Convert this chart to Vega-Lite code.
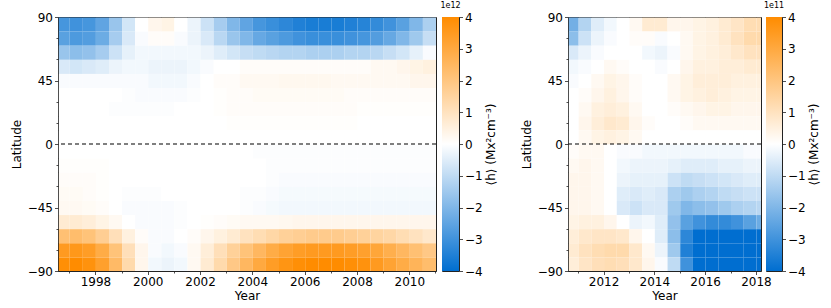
{
"$schema":"https://vega.github.io/schema/vega-lite/v6.json",
"padding":{"left":9,"top":1,"right":5,"bottom":4},
"background":"white",
"config":{
 "font":"DejaVu Sans",
 "view":{"stroke":"#222","strokeWidth":1},
 "axis":{"labelFont":"DejaVu Sans","labelFontSize":12,"titleFont":"DejaVu Sans","titleFontSize":12,"titleFontWeight":"normal","labelColor":"black","titleColor":"black","domainColor":"#222","tickColor":"#222","tickWidth":0.8,"domainWidth":0.8,"tickSize":3.5,"labelPadding":2,"titlePadding":3,"grid":false,"labelOverlap":false,"labelFlush":false},
 "title":{"font":"DejaVu Sans","fontSize":8,"fontWeight":"normal","color":"black","offset":1}
},
"datasets":{
"cb":[{"lo":-4,"hi":4}],
"L":[
{"x":1996.5,"y":80,"v":-2.9},{"x":1997,"y":80,"v":-3.0},{"x":1997.5,"y":80,"v":-2.9},{"x":1998,"y":80,"v":-2.5},{"x":1998.5,"y":80,"v":-1.6},{"x":1999,"y":80,"v":-0.7},{"x":1999.5,"y":80,"v":0},{"x":2000,"y":80,"v":0.3},{"x":2000.5,"y":80,"v":0.4},{"x":2001,"y":80,"v":0},{"x":2001.5,"y":80,"v":-0.3},{"x":2002,"y":80,"v":-0.8},{"x":2002.5,"y":80,"v":-1.4},{"x":2003,"y":80,"v":-2.0},{"x":2003.5,"y":80,"v":-2.5},{"x":2004,"y":80,"v":-2.9},{"x":2004.5,"y":80,"v":-3.1},{"x":2005,"y":80,"v":-3.3},{"x":2005.5,"y":80,"v":-3.5},{"x":2006,"y":80,"v":-3.6},{"x":2006.5,"y":80,"v":-3.6},{"x":2007,"y":80,"v":-3.6},{"x":2007.5,"y":80,"v":-3.5},{"x":2008,"y":80,"v":-3.4},{"x":2008.5,"y":80,"v":-3.2},{"x":2009,"y":80,"v":-3.0},{"x":2009.5,"y":80,"v":-2.6},{"x":2010,"y":80,"v":-2.0},{"x":2010.5,"y":80,"v":-1.3},
{"x":1996.5,"y":70,"v":-2.6},{"x":1997,"y":70,"v":-2.8},{"x":1997.5,"y":70,"v":-2.7},{"x":1998,"y":70,"v":-2.3},{"x":1998.5,"y":70,"v":-1.4},{"x":1999,"y":70,"v":-0.6},{"x":1999.5,"y":70,"v":-0.1},{"x":2000,"y":70,"v":0.1},{"x":2000.5,"y":70,"v":0.1},{"x":2001,"y":70,"v":-0.1},{"x":2001.5,"y":70,"v":-0.3},{"x":2002,"y":70,"v":-0.6},{"x":2002.5,"y":70,"v":-1.1},{"x":2003,"y":70,"v":-1.6},{"x":2003.5,"y":70,"v":-2.0},{"x":2004,"y":70,"v":-2.4},{"x":2004.5,"y":70,"v":-2.6},{"x":2005,"y":70,"v":-2.8},{"x":2005.5,"y":70,"v":-3.0},{"x":2006,"y":70,"v":-3.1},{"x":2006.5,"y":70,"v":-3.1},{"x":2007,"y":70,"v":-3.1},{"x":2007.5,"y":70,"v":-3.0},{"x":2008,"y":70,"v":-2.9},{"x":2008.5,"y":70,"v":-2.7},{"x":2009,"y":70,"v":-2.4},{"x":2009.5,"y":70,"v":-2.0},{"x":2010,"y":70,"v":-1.5},{"x":2010.5,"y":70,"v":-0.9},
{"x":1996.5,"y":60,"v":-1.6},{"x":1997,"y":60,"v":-1.8},{"x":1997.5,"y":60,"v":-1.7},{"x":1998,"y":60,"v":-1.4},{"x":1998.5,"y":60,"v":-0.8},{"x":1999,"y":60,"v":-0.4},{"x":1999.5,"y":60,"v":-0.2},{"x":2000,"y":60,"v":-0.2},{"x":2000.5,"y":60,"v":-0.2},{"x":2001,"y":60,"v":-0.2},{"x":2001.5,"y":60,"v":-0.2},{"x":2002,"y":60,"v":-0.3},{"x":2002.5,"y":60,"v":-0.5},{"x":2003,"y":60,"v":-0.7},{"x":2003.5,"y":60,"v":-0.9},{"x":2004,"y":60,"v":-1.0},{"x":2004.5,"y":60,"v":-1.1},{"x":2005,"y":60,"v":-1.2},{"x":2005.5,"y":60,"v":-1.2},{"x":2006,"y":60,"v":-1.3},{"x":2006.5,"y":60,"v":-1.3},{"x":2007,"y":60,"v":-1.3},{"x":2007.5,"y":60,"v":-1.2},{"x":2008,"y":60,"v":-1.2},{"x":2008.5,"y":60,"v":-1.1},{"x":2009,"y":60,"v":-0.9},{"x":2009.5,"y":60,"v":-0.7},{"x":2010,"y":60,"v":-0.4},{"x":2010.5,"y":60,"v":-0.1},
{"x":1996.5,"y":50,"v":-0.6},{"x":1997,"y":50,"v":-0.7},{"x":1997.5,"y":50,"v":-0.6},{"x":1998,"y":50,"v":-0.5},{"x":1998.5,"y":50,"v":-0.3},{"x":1999,"y":50,"v":-0.2},{"x":1999.5,"y":50,"v":-0.2},{"x":2000,"y":50,"v":-0.3},{"x":2000.5,"y":50,"v":-0.3},{"x":2001,"y":50,"v":-0.3},{"x":2001.5,"y":50,"v":-0.2},{"x":2002,"y":50,"v":-0.1},{"x":2002.5,"y":50,"v":0},{"x":2003,"y":50,"v":0},{"x":2003.5,"y":50,"v":0.1},{"x":2004,"y":50,"v":0.1},{"x":2004.5,"y":50,"v":0.1},{"x":2005,"y":50,"v":0.1},{"x":2005.5,"y":50,"v":0.1},{"x":2006,"y":50,"v":0.1},{"x":2006.5,"y":50,"v":0.1},{"x":2007,"y":50,"v":0.1},{"x":2007.5,"y":50,"v":0.1},{"x":2008,"y":50,"v":0.1},{"x":2008.5,"y":50,"v":0.2},{"x":2009,"y":50,"v":0.2},{"x":2009.5,"y":50,"v":0.3},{"x":2010,"y":50,"v":0.4},{"x":2010.5,"y":50,"v":0.5},
{"x":1996.5,"y":40,"v":-0.1},{"x":1997,"y":40,"v":-0.1},{"x":1997.5,"y":40,"v":-0.1},{"x":1998,"y":40,"v":-0.1},{"x":1998.5,"y":40,"v":-0.1},{"x":1999,"y":40,"v":-0.1},{"x":1999.5,"y":40,"v":-0.1},{"x":2000,"y":40,"v":-0.2},{"x":2000.5,"y":40,"v":-0.2},{"x":2001,"y":40,"v":-0.2},{"x":2001.5,"y":40,"v":-0.1},{"x":2002,"y":40,"v":0},{"x":2002.5,"y":40,"v":0.1},{"x":2003,"y":40,"v":0.1},{"x":2003.5,"y":40,"v":0.2},{"x":2004,"y":40,"v":0.2},{"x":2004.5,"y":40,"v":0.2},{"x":2005,"y":40,"v":0.25},{"x":2005.5,"y":40,"v":0.25},{"x":2006,"y":40,"v":0.25},{"x":2006.5,"y":40,"v":0.25},{"x":2007,"y":40,"v":0.2},{"x":2007.5,"y":40,"v":0.2},{"x":2008,"y":40,"v":0.2},{"x":2008.5,"y":40,"v":0.2},{"x":2009,"y":40,"v":0.2},{"x":2009.5,"y":40,"v":0.2},{"x":2010,"y":40,"v":0.3},{"x":2010.5,"y":40,"v":0.3},
{"x":1996.5,"y":30,"v":0},{"x":1997,"y":30,"v":0},{"x":1997.5,"y":30,"v":0},{"x":1998,"y":30,"v":0},{"x":1998.5,"y":30,"v":0},{"x":1999,"y":30,"v":-0.05},{"x":1999.5,"y":30,"v":-0.1},{"x":2000,"y":30,"v":-0.1},{"x":2000.5,"y":30,"v":-0.1},{"x":2001,"y":30,"v":-0.1},{"x":2001.5,"y":30,"v":-0.05},{"x":2002,"y":30,"v":0},{"x":2002.5,"y":30,"v":0.05},{"x":2003,"y":30,"v":0.1},{"x":2003.5,"y":30,"v":0.1},{"x":2004,"y":30,"v":0.15},{"x":2004.5,"y":30,"v":0.15},{"x":2005,"y":30,"v":0.15},{"x":2005.5,"y":30,"v":0.15},{"x":2006,"y":30,"v":0.15},{"x":2006.5,"y":30,"v":0.15},{"x":2007,"y":30,"v":0.15},{"x":2007.5,"y":30,"v":0.1},{"x":2008,"y":30,"v":0.1},{"x":2008.5,"y":30,"v":0.1},{"x":2009,"y":30,"v":0.1},{"x":2009.5,"y":30,"v":0.1},{"x":2010,"y":30,"v":0.1},{"x":2010.5,"y":30,"v":0.1},
{"x":1996.5,"y":20,"v":0},{"x":1997,"y":20,"v":0},{"x":1997.5,"y":20,"v":0},{"x":1998,"y":20,"v":0},{"x":1998.5,"y":20,"v":-0.05},{"x":1999,"y":20,"v":-0.05},{"x":1999.5,"y":20,"v":-0.05},{"x":2000,"y":20,"v":-0.05},{"x":2000.5,"y":20,"v":-0.05},{"x":2001,"y":20,"v":0},{"x":2001.5,"y":20,"v":0},{"x":2002,"y":20,"v":0},{"x":2002.5,"y":20,"v":0.05},{"x":2003,"y":20,"v":0.1},{"x":2003.5,"y":20,"v":0.1},{"x":2004,"y":20,"v":0.1},{"x":2004.5,"y":20,"v":0.1},{"x":2005,"y":20,"v":0.1},{"x":2005.5,"y":20,"v":0.1},{"x":2006,"y":20,"v":0.1},{"x":2006.5,"y":20,"v":0.1},{"x":2007,"y":20,"v":0.1},{"x":2007.5,"y":20,"v":0.1},{"x":2008,"y":20,"v":0.05},{"x":2008.5,"y":20,"v":0.05},{"x":2009,"y":20,"v":0.05},{"x":2009.5,"y":20,"v":0.05},{"x":2010,"y":20,"v":0.05},{"x":2010.5,"y":20,"v":0.05},
{"x":1996.5,"y":10,"v":0},{"x":1997,"y":10,"v":0},{"x":1997.5,"y":10,"v":0},{"x":1998,"y":10,"v":0},{"x":1998.5,"y":10,"v":0},{"x":1999,"y":10,"v":0},{"x":1999.5,"y":10,"v":0},{"x":2000,"y":10,"v":0},{"x":2000.5,"y":10,"v":0},{"x":2001,"y":10,"v":0},{"x":2001.5,"y":10,"v":0},{"x":2002,"y":10,"v":0},{"x":2002.5,"y":10,"v":0},{"x":2003,"y":10,"v":0.05},{"x":2003.5,"y":10,"v":0.05},{"x":2004,"y":10,"v":0.05},{"x":2004.5,"y":10,"v":0.05},{"x":2005,"y":10,"v":0.05},{"x":2005.5,"y":10,"v":0.05},{"x":2006,"y":10,"v":0.05},{"x":2006.5,"y":10,"v":0.05},{"x":2007,"y":10,"v":0.05},{"x":2007.5,"y":10,"v":0.05},{"x":2008,"y":10,"v":0},{"x":2008.5,"y":10,"v":0},{"x":2009,"y":10,"v":0},{"x":2009.5,"y":10,"v":0},{"x":2010,"y":10,"v":0},{"x":2010.5,"y":10,"v":0},
{"x":1996.5,"y":0,"v":0},{"x":1997,"y":0,"v":0},{"x":1997.5,"y":0,"v":0},{"x":1998,"y":0,"v":0},{"x":1998.5,"y":0,"v":0},{"x":1999,"y":0,"v":0},{"x":1999.5,"y":0,"v":0},{"x":2000,"y":0,"v":0},{"x":2000.5,"y":0,"v":0},{"x":2001,"y":0,"v":0},{"x":2001.5,"y":0,"v":0},{"x":2002,"y":0,"v":0},{"x":2002.5,"y":0,"v":0},{"x":2003,"y":0,"v":0},{"x":2003.5,"y":0,"v":0},{"x":2004,"y":0,"v":0},{"x":2004.5,"y":0,"v":0},{"x":2005,"y":0,"v":0},{"x":2005.5,"y":0,"v":0},{"x":2006,"y":0,"v":0},{"x":2006.5,"y":0,"v":0},{"x":2007,"y":0,"v":0},{"x":2007.5,"y":0,"v":0},{"x":2008,"y":0,"v":0},{"x":2008.5,"y":0,"v":0},{"x":2009,"y":0,"v":0},{"x":2009.5,"y":0,"v":0},{"x":2010,"y":0,"v":0},{"x":2010.5,"y":0,"v":0},
{"x":1996.5,"y":-10,"v":0},{"x":1997,"y":-10,"v":0},{"x":1997.5,"y":-10,"v":0},{"x":1998,"y":-10,"v":0},{"x":1998.5,"y":-10,"v":0},{"x":1999,"y":-10,"v":0},{"x":1999.5,"y":-10,"v":0},{"x":2000,"y":-10,"v":0},{"x":2000.5,"y":-10,"v":0},{"x":2001,"y":-10,"v":0},{"x":2001.5,"y":-10,"v":0},{"x":2002,"y":-10,"v":0},{"x":2002.5,"y":-10,"v":0},{"x":2003,"y":-10,"v":0},{"x":2003.5,"y":-10,"v":0},{"x":2004,"y":-10,"v":-0.05},{"x":2004.5,"y":-10,"v":-0.05},{"x":2005,"y":-10,"v":-0.05},{"x":2005.5,"y":-10,"v":-0.05},{"x":2006,"y":-10,"v":-0.05},{"x":2006.5,"y":-10,"v":-0.05},{"x":2007,"y":-10,"v":-0.05},{"x":2007.5,"y":-10,"v":-0.05},{"x":2008,"y":-10,"v":-0.05},{"x":2008.5,"y":-10,"v":-0.05},{"x":2009,"y":-10,"v":-0.05},{"x":2009.5,"y":-10,"v":-0.05},{"x":2010,"y":-10,"v":-0.05},{"x":2010.5,"y":-10,"v":-0.05},
{"x":1996.5,"y":-20,"v":0.05},{"x":1997,"y":-20,"v":0.05},{"x":1997.5,"y":-20,"v":0.05},{"x":1998,"y":-20,"v":0.05},{"x":1998.5,"y":-20,"v":0},{"x":1999,"y":-20,"v":0},{"x":1999.5,"y":-20,"v":0},{"x":2000,"y":-20,"v":0},{"x":2000.5,"y":-20,"v":0},{"x":2001,"y":-20,"v":0},{"x":2001.5,"y":-20,"v":0},{"x":2002,"y":-20,"v":0},{"x":2002.5,"y":-20,"v":0},{"x":2003,"y":-20,"v":0},{"x":2003.5,"y":-20,"v":0},{"x":2004,"y":-20,"v":0},{"x":2004.5,"y":-20,"v":-0.05},{"x":2005,"y":-20,"v":-0.05},{"x":2005.5,"y":-20,"v":-0.05},{"x":2006,"y":-20,"v":-0.05},{"x":2006.5,"y":-20,"v":-0.05},{"x":2007,"y":-20,"v":-0.05},{"x":2007.5,"y":-20,"v":-0.05},{"x":2008,"y":-20,"v":-0.05},{"x":2008.5,"y":-20,"v":-0.05},{"x":2009,"y":-20,"v":-0.05},{"x":2009.5,"y":-20,"v":-0.05},{"x":2010,"y":-20,"v":-0.05},{"x":2010.5,"y":-20,"v":-0.05},
{"x":1996.5,"y":-30,"v":0.1},{"x":1997,"y":-30,"v":0.1},{"x":1997.5,"y":-30,"v":0.1},{"x":1998,"y":-30,"v":0.05},{"x":1998.5,"y":-30,"v":0},{"x":1999,"y":-30,"v":0},{"x":1999.5,"y":-30,"v":0},{"x":2000,"y":-30,"v":0},{"x":2000.5,"y":-30,"v":0},{"x":2001,"y":-30,"v":0},{"x":2001.5,"y":-30,"v":0},{"x":2002,"y":-30,"v":0},{"x":2002.5,"y":-30,"v":0},{"x":2003,"y":-30,"v":0},{"x":2003.5,"y":-30,"v":0},{"x":2004,"y":-30,"v":0},{"x":2004.5,"y":-30,"v":-0.05},{"x":2005,"y":-30,"v":-0.1},{"x":2005.5,"y":-30,"v":-0.1},{"x":2006,"y":-30,"v":-0.1},{"x":2006.5,"y":-30,"v":-0.1},{"x":2007,"y":-30,"v":-0.1},{"x":2007.5,"y":-30,"v":-0.1},{"x":2008,"y":-30,"v":-0.1},{"x":2008.5,"y":-30,"v":-0.1},{"x":2009,"y":-30,"v":-0.1},{"x":2009.5,"y":-30,"v":-0.1},{"x":2010,"y":-30,"v":-0.1},{"x":2010.5,"y":-30,"v":-0.1},
{"x":1996.5,"y":-40,"v":0.15},{"x":1997,"y":-40,"v":0.15},{"x":1997.5,"y":-40,"v":0.1},{"x":1998,"y":-40,"v":0.05},{"x":1998.5,"y":-40,"v":0},{"x":1999,"y":-40,"v":-0.05},{"x":1999.5,"y":-40,"v":-0.05},{"x":2000,"y":-40,"v":-0.05},{"x":2000.5,"y":-40,"v":0},{"x":2001,"y":-40,"v":0},{"x":2001.5,"y":-40,"v":0},{"x":2002,"y":-40,"v":0},{"x":2002.5,"y":-40,"v":0},{"x":2003,"y":-40,"v":0},{"x":2003.5,"y":-40,"v":-0.05},{"x":2004,"y":-40,"v":-0.05},{"x":2004.5,"y":-40,"v":-0.1},{"x":2005,"y":-40,"v":-0.15},{"x":2005.5,"y":-40,"v":-0.15},{"x":2006,"y":-40,"v":-0.15},{"x":2006.5,"y":-40,"v":-0.15},{"x":2007,"y":-40,"v":-0.15},{"x":2007.5,"y":-40,"v":-0.15},{"x":2008,"y":-40,"v":-0.15},{"x":2008.5,"y":-40,"v":-0.15},{"x":2009,"y":-40,"v":-0.15},{"x":2009.5,"y":-40,"v":-0.15},{"x":2010,"y":-40,"v":-0.15},{"x":2010.5,"y":-40,"v":-0.15},
{"x":1996.5,"y":-50,"v":0.2},{"x":1997,"y":-50,"v":0.2},{"x":1997.5,"y":-50,"v":0.15},{"x":1998,"y":-50,"v":0.1},{"x":1998.5,"y":-50,"v":0},{"x":1999,"y":-50,"v":-0.1},{"x":1999.5,"y":-50,"v":-0.1},{"x":2000,"y":-50,"v":-0.1},{"x":2000.5,"y":-50,"v":-0.1},{"x":2001,"y":-50,"v":-0.05},{"x":2001.5,"y":-50,"v":0},{"x":2002,"y":-50,"v":0},{"x":2002.5,"y":-50,"v":0},{"x":2003,"y":-50,"v":0},{"x":2003.5,"y":-50,"v":-0.05},{"x":2004,"y":-50,"v":-0.1},{"x":2004.5,"y":-50,"v":-0.15},{"x":2005,"y":-50,"v":-0.2},{"x":2005.5,"y":-50,"v":-0.2},{"x":2006,"y":-50,"v":-0.2},{"x":2006.5,"y":-50,"v":-0.2},{"x":2007,"y":-50,"v":-0.2},{"x":2007.5,"y":-50,"v":-0.2},{"x":2008,"y":-50,"v":-0.2},{"x":2008.5,"y":-50,"v":-0.2},{"x":2009,"y":-50,"v":-0.2},{"x":2009.5,"y":-50,"v":-0.2},{"x":2010,"y":-50,"v":-0.2},{"x":2010.5,"y":-50,"v":-0.2},
{"x":1996.5,"y":-60,"v":0.7},{"x":1997,"y":-60,"v":0.7},{"x":1997.5,"y":-60,"v":0.6},{"x":1998,"y":-60,"v":0.4},{"x":1998.5,"y":-60,"v":0.2},{"x":1999,"y":-60,"v":0},{"x":1999.5,"y":-60,"v":-0.1},{"x":2000,"y":-60,"v":-0.1},{"x":2000.5,"y":-60,"v":-0.1},{"x":2001,"y":-60,"v":-0.05},{"x":2001.5,"y":-60,"v":0},{"x":2002,"y":-60,"v":0.05},{"x":2002.5,"y":-60,"v":0.1},{"x":2003,"y":-60,"v":0.15},{"x":2003.5,"y":-60,"v":0.2},{"x":2004,"y":-60,"v":0.2},{"x":2004.5,"y":-60,"v":0.2},{"x":2005,"y":-60,"v":0.25},{"x":2005.5,"y":-60,"v":0.3},{"x":2006,"y":-60,"v":0.3},{"x":2006.5,"y":-60,"v":0.3},{"x":2007,"y":-60,"v":0.3},{"x":2007.5,"y":-60,"v":0.3},{"x":2008,"y":-60,"v":0.3},{"x":2008.5,"y":-60,"v":0.3},{"x":2009,"y":-60,"v":0.3},{"x":2009.5,"y":-60,"v":0.3},{"x":2010,"y":-60,"v":0.3},{"x":2010.5,"y":-60,"v":0.3},
{"x":1996.5,"y":-70,"v":2.2},{"x":1997,"y":-70,"v":2.3},{"x":1997.5,"y":-70,"v":2.1},{"x":1998,"y":-70,"v":1.7},{"x":1998.5,"y":-70,"v":1.1},{"x":1999,"y":-70,"v":0.5},{"x":1999.5,"y":-70,"v":0.1},{"x":2000,"y":-70,"v":-0.1},{"x":2000.5,"y":-70,"v":-0.1},{"x":2001,"y":-70,"v":0},{"x":2001.5,"y":-70,"v":0.1},{"x":2002,"y":-70,"v":0.3},{"x":2002.5,"y":-70,"v":0.5},{"x":2003,"y":-70,"v":0.7},{"x":2003.5,"y":-70,"v":1.0},{"x":2004,"y":-70,"v":1.2},{"x":2004.5,"y":-70,"v":1.4},{"x":2005,"y":-70,"v":1.6},{"x":2005.5,"y":-70,"v":1.7},{"x":2006,"y":-70,"v":1.8},{"x":2006.5,"y":-70,"v":1.8},{"x":2007,"y":-70,"v":1.8},{"x":2007.5,"y":-70,"v":1.7},{"x":2008,"y":-70,"v":1.6},{"x":2008.5,"y":-70,"v":1.5},{"x":2009,"y":-70,"v":1.4},{"x":2009.5,"y":-70,"v":1.2},{"x":2010,"y":-70,"v":1.0},{"x":2010.5,"y":-70,"v":0.8},
{"x":1996.5,"y":-80,"v":3.5},{"x":1997,"y":-80,"v":3.6},{"x":1997.5,"y":-80,"v":3.4},{"x":1998,"y":-80,"v":2.9},{"x":1998.5,"y":-80,"v":2.1},{"x":1999,"y":-80,"v":1.1},{"x":1999.5,"y":-80,"v":0.3},{"x":2000,"y":-80,"v":-0.1},{"x":2000.5,"y":-80,"v":-0.2},{"x":2001,"y":-80,"v":-0.1},{"x":2001.5,"y":-80,"v":0.2},{"x":2002,"y":-80,"v":0.6},{"x":2002.5,"y":-80,"v":1.1},{"x":2003,"y":-80,"v":1.6},{"x":2003.5,"y":-80,"v":2.1},{"x":2004,"y":-80,"v":2.5},{"x":2004.5,"y":-80,"v":2.9},{"x":2005,"y":-80,"v":3.2},{"x":2005.5,"y":-80,"v":3.4},{"x":2006,"y":-80,"v":3.5},{"x":2006.5,"y":-80,"v":3.5},{"x":2007,"y":-80,"v":3.5},{"x":2007.5,"y":-80,"v":3.4},{"x":2008,"y":-80,"v":3.3},{"x":2008.5,"y":-80,"v":3.1},{"x":2009,"y":-80,"v":2.8},{"x":2009.5,"y":-80,"v":2.5},{"x":2010,"y":-80,"v":2.2},{"x":2010.5,"y":-80,"v":1.9},
{"x":1996.5,"y":-90,"v":3.9},{"x":1997,"y":-90,"v":4},{"x":1997.5,"y":-90,"v":3.8},{"x":1998,"y":-90,"v":3.3},{"x":1998.5,"y":-90,"v":2.4},{"x":1999,"y":-90,"v":1.3},{"x":1999.5,"y":-90,"v":0.3},{"x":2000,"y":-90,"v":-0.2},{"x":2000.5,"y":-90,"v":-0.3},{"x":2001,"y":-90,"v":-0.2},{"x":2001.5,"y":-90,"v":0.2},{"x":2002,"y":-90,"v":0.7},{"x":2002.5,"y":-90,"v":1.3},{"x":2003,"y":-90,"v":1.9},{"x":2003.5,"y":-90,"v":2.5},{"x":2004,"y":-90,"v":3.0},{"x":2004.5,"y":-90,"v":3.4},{"x":2005,"y":-90,"v":3.7},{"x":2005.5,"y":-90,"v":3.9},{"x":2006,"y":-90,"v":4},{"x":2006.5,"y":-90,"v":4},{"x":2007,"y":-90,"v":4},{"x":2007.5,"y":-90,"v":3.9},{"x":2008,"y":-90,"v":3.8},{"x":2008.5,"y":-90,"v":3.5},{"x":2009,"y":-90,"v":3.2},{"x":2009.5,"y":-90,"v":2.9},{"x":2010,"y":-90,"v":2.6},{"x":2010.5,"y":-90,"v":2.3}
],
"R":[
{"x":2010.5,"y":80,"v":-2.2},{"x":2011,"y":80,"v":-1.2},{"x":2011.5,"y":80,"v":-0.5},{"x":2012,"y":80,"v":-0.2},{"x":2012.5,"y":80,"v":0},{"x":2013,"y":80,"v":0.2},{"x":2013.5,"y":80,"v":0.7},{"x":2014,"y":80,"v":0.7},{"x":2014.5,"y":80,"v":0.3},{"x":2015,"y":80,"v":0.3},{"x":2015.5,"y":80,"v":0.4},{"x":2016,"y":80,"v":0.5},{"x":2016.5,"y":80,"v":0.7},{"x":2017,"y":80,"v":0.9},{"x":2017.5,"y":80,"v":1.2},{"x":2018,"y":80,"v":1.2},
{"x":2010.5,"y":70,"v":-1.8},{"x":2011,"y":70,"v":-0.8},{"x":2011.5,"y":70,"v":-0.3},{"x":2012,"y":70,"v":-0.1},{"x":2012.5,"y":70,"v":0},{"x":2013,"y":70,"v":0.1},{"x":2013.5,"y":70,"v":0.1},{"x":2014,"y":70,"v":-0.1},{"x":2014.5,"y":70,"v":0},{"x":2015,"y":70,"v":0.2},{"x":2015.5,"y":70,"v":0.4},{"x":2016,"y":70,"v":0.5},{"x":2016.5,"y":70,"v":0.7},{"x":2017,"y":70,"v":1.0},{"x":2017.5,"y":70,"v":1.3},{"x":2018,"y":70,"v":1.3},
{"x":2010.5,"y":60,"v":-0.6},{"x":2011,"y":60,"v":-0.3},{"x":2011.5,"y":60,"v":-0.1},{"x":2012,"y":60,"v":0},{"x":2012.5,"y":60,"v":0},{"x":2013,"y":60,"v":0},{"x":2013.5,"y":60,"v":-0.2},{"x":2014,"y":60,"v":-0.3},{"x":2014.5,"y":60,"v":-0.1},{"x":2015,"y":60,"v":0.2},{"x":2015.5,"y":60,"v":0.4},{"x":2016,"y":60,"v":0.5},{"x":2016.5,"y":60,"v":0.6},{"x":2017,"y":60,"v":0.8},{"x":2017.5,"y":60,"v":1.0},{"x":2018,"y":60,"v":1.0},
{"x":2010.5,"y":50,"v":-0.2},{"x":2011,"y":50,"v":-0.1},{"x":2011.5,"y":50,"v":0},{"x":2012,"y":50,"v":0.2},{"x":2012.5,"y":50,"v":0.1},{"x":2013,"y":50,"v":0},{"x":2013.5,"y":50,"v":0},{"x":2014,"y":50,"v":-0.1},{"x":2014.5,"y":50,"v":0},{"x":2015,"y":50,"v":0.3},{"x":2015.5,"y":50,"v":0.5},{"x":2016,"y":50,"v":0.5},{"x":2016.5,"y":50,"v":0.6},{"x":2017,"y":50,"v":0.6},{"x":2017.5,"y":50,"v":0.7},{"x":2018,"y":50,"v":0.7},
{"x":2010.5,"y":40,"v":-0.1},{"x":2011,"y":40,"v":0},{"x":2011.5,"y":40,"v":0.2},{"x":2012,"y":40,"v":0.4},{"x":2012.5,"y":40,"v":0.3},{"x":2013,"y":40,"v":0.1},{"x":2013.5,"y":40,"v":0},{"x":2014,"y":40,"v":0},{"x":2014.5,"y":40,"v":0.2},{"x":2015,"y":40,"v":0.4},{"x":2015.5,"y":40,"v":0.6},{"x":2016,"y":40,"v":0.6},{"x":2016.5,"y":40,"v":0.6},{"x":2017,"y":40,"v":0.5},{"x":2017.5,"y":40,"v":0.5},{"x":2018,"y":40,"v":0.5},
{"x":2010.5,"y":30,"v":0},{"x":2011,"y":30,"v":0.1},{"x":2011.5,"y":30,"v":0.3},{"x":2012,"y":30,"v":0.5},{"x":2012.5,"y":30,"v":0.3},{"x":2013,"y":30,"v":0.1},{"x":2013.5,"y":30,"v":0},{"x":2014,"y":30,"v":0},{"x":2014.5,"y":30,"v":0.2},{"x":2015,"y":30,"v":0.4},{"x":2015.5,"y":30,"v":0.5},{"x":2016,"y":30,"v":0.6},{"x":2016.5,"y":30,"v":0.5},{"x":2017,"y":30,"v":0.4},{"x":2017.5,"y":30,"v":0.4},{"x":2018,"y":30,"v":0.4},
{"x":2010.5,"y":20,"v":0},{"x":2011,"y":20,"v":0.2},{"x":2011.5,"y":20,"v":0.5},{"x":2012,"y":20,"v":0.6},{"x":2012.5,"y":20,"v":0.5},{"x":2013,"y":20,"v":0.2},{"x":2013.5,"y":20,"v":0},{"x":2014,"y":20,"v":0},{"x":2014.5,"y":20,"v":0.1},{"x":2015,"y":20,"v":0.2},{"x":2015.5,"y":20,"v":0.3},{"x":2016,"y":20,"v":0.4},{"x":2016.5,"y":20,"v":0.4},{"x":2017,"y":20,"v":0.3},{"x":2017.5,"y":20,"v":0.3},{"x":2018,"y":20,"v":0.3},
{"x":2010.5,"y":10,"v":0},{"x":2011,"y":10,"v":0.3},{"x":2011.5,"y":10,"v":0.6},{"x":2012,"y":10,"v":0.8},{"x":2012.5,"y":10,"v":0.7},{"x":2013,"y":10,"v":0.3},{"x":2013.5,"y":10,"v":0.1},{"x":2014,"y":10,"v":0},{"x":2014.5,"y":10,"v":0},{"x":2015,"y":10,"v":0.1},{"x":2015.5,"y":10,"v":0.2},{"x":2016,"y":10,"v":0.2},{"x":2016.5,"y":10,"v":0.2},{"x":2017,"y":10,"v":0.2},{"x":2017.5,"y":10,"v":0.2},{"x":2018,"y":10,"v":0.2},
{"x":2010.5,"y":0,"v":0},{"x":2011,"y":0,"v":0.2},{"x":2011.5,"y":0,"v":0.4},{"x":2012,"y":0,"v":0.5},{"x":2012.5,"y":0,"v":0.4},{"x":2013,"y":0,"v":0.2},{"x":2013.5,"y":0,"v":0},{"x":2014,"y":0,"v":0},{"x":2014.5,"y":0,"v":0},{"x":2015,"y":0,"v":0},{"x":2015.5,"y":0,"v":0},{"x":2016,"y":0,"v":0},{"x":2016.5,"y":0,"v":0},{"x":2017,"y":0,"v":0},{"x":2017.5,"y":0,"v":0},{"x":2018,"y":0,"v":0},
{"x":2010.5,"y":-10,"v":0.1},{"x":2011,"y":-10,"v":0.2},{"x":2011.5,"y":-10,"v":0.2},{"x":2012,"y":-10,"v":0},{"x":2012.5,"y":-10,"v":-0.1},{"x":2013,"y":-10,"v":-0.1},{"x":2013.5,"y":-10,"v":-0.2},{"x":2014,"y":-10,"v":-0.2},{"x":2014.5,"y":-10,"v":-0.2},{"x":2015,"y":-10,"v":-0.2},{"x":2015.5,"y":-10,"v":-0.2},{"x":2016,"y":-10,"v":-0.2},{"x":2016.5,"y":-10,"v":-0.2},{"x":2017,"y":-10,"v":-0.2},{"x":2017.5,"y":-10,"v":-0.1},{"x":2018,"y":-10,"v":-0.1},
{"x":2010.5,"y":-20,"v":0.2},{"x":2011,"y":-20,"v":0.3},{"x":2011.5,"y":-20,"v":0.2},{"x":2012,"y":-20,"v":0},{"x":2012.5,"y":-20,"v":-0.2},{"x":2013,"y":-20,"v":-0.3},{"x":2013.5,"y":-20,"v":-0.3},{"x":2014,"y":-20,"v":-0.3},{"x":2014.5,"y":-20,"v":-0.4},{"x":2015,"y":-20,"v":-0.5},{"x":2015.5,"y":-20,"v":-0.5},{"x":2016,"y":-20,"v":-0.5},{"x":2016.5,"y":-20,"v":-0.4},{"x":2017,"y":-20,"v":-0.4},{"x":2017.5,"y":-20,"v":-0.3},{"x":2018,"y":-20,"v":-0.3},
{"x":2010.5,"y":-30,"v":0.3},{"x":2011,"y":-30,"v":0.3},{"x":2011.5,"y":-30,"v":0.2},{"x":2012,"y":-30,"v":0},{"x":2012.5,"y":-30,"v":-0.3},{"x":2013,"y":-30,"v":-0.4},{"x":2013.5,"y":-30,"v":-0.4},{"x":2014,"y":-30,"v":-0.4},{"x":2014.5,"y":-30,"v":-0.8},{"x":2015,"y":-30,"v":-1.0},{"x":2015.5,"y":-30,"v":-0.9},{"x":2016,"y":-30,"v":-0.8},{"x":2016.5,"y":-30,"v":-0.7},{"x":2017,"y":-30,"v":-0.6},{"x":2017.5,"y":-30,"v":-0.5},{"x":2018,"y":-30,"v":-0.5},
{"x":2010.5,"y":-40,"v":0.3},{"x":2011,"y":-40,"v":0.3},{"x":2011.5,"y":-40,"v":0.2},{"x":2012,"y":-40,"v":0},{"x":2012.5,"y":-40,"v":-0.5},{"x":2013,"y":-40,"v":-0.6},{"x":2013.5,"y":-40,"v":-0.5},{"x":2014,"y":-40,"v":-0.6},{"x":2014.5,"y":-40,"v":-1.3},{"x":2015,"y":-40,"v":-1.5},{"x":2015.5,"y":-40,"v":-1.3},{"x":2016,"y":-40,"v":-1.2},{"x":2016.5,"y":-40,"v":-1.0},{"x":2017,"y":-40,"v":-0.9},{"x":2017.5,"y":-40,"v":-0.8},{"x":2018,"y":-40,"v":-0.8},
{"x":2010.5,"y":-50,"v":0.3},{"x":2011,"y":-50,"v":0.3},{"x":2011.5,"y":-50,"v":0.2},{"x":2012,"y":-50,"v":0},{"x":2012.5,"y":-50,"v":-0.6},{"x":2013,"y":-50,"v":-0.8},{"x":2013.5,"y":-50,"v":-0.6},{"x":2014,"y":-50,"v":-0.6},{"x":2014.5,"y":-50,"v":-1.5},{"x":2015,"y":-50,"v":-2.0},{"x":2015.5,"y":-50,"v":-1.8},{"x":2016,"y":-50,"v":-1.7},{"x":2016.5,"y":-50,"v":-1.5},{"x":2017,"y":-50,"v":-1.3},{"x":2017.5,"y":-50,"v":-1.2},{"x":2018,"y":-50,"v":-1.1},
{"x":2010.5,"y":-60,"v":0.4},{"x":2011,"y":-60,"v":0.5},{"x":2011.5,"y":-60,"v":0.5},{"x":2012,"y":-60,"v":0.3},{"x":2012.5,"y":-60,"v":0},{"x":2013,"y":-60,"v":-0.3},{"x":2013.5,"y":-60,"v":-0.2},{"x":2014,"y":-60,"v":-0.5},{"x":2014.5,"y":-60,"v":-1.7},{"x":2015,"y":-60,"v":-2.6},{"x":2015.5,"y":-60,"v":-3.0},{"x":2016,"y":-60,"v":-3.2},{"x":2016.5,"y":-60,"v":-3.2},{"x":2017,"y":-60,"v":-3.0},{"x":2017.5,"y":-60,"v":-2.6},{"x":2018,"y":-60,"v":-2.3},
{"x":2010.5,"y":-70,"v":0.6},{"x":2011,"y":-70,"v":0.8},{"x":2011.5,"y":-70,"v":0.9},{"x":2012,"y":-70,"v":0.9},{"x":2012.5,"y":-70,"v":0.8},{"x":2013,"y":-70,"v":0.3},{"x":2013.5,"y":-70,"v":0},{"x":2014,"y":-70,"v":-0.5},{"x":2014.5,"y":-70,"v":-1.8},{"x":2015,"y":-70,"v":-3.3},{"x":2015.5,"y":-70,"v":-4},{"x":2016,"y":-70,"v":-4},{"x":2016.5,"y":-70,"v":-4},{"x":2017,"y":-70,"v":-4},{"x":2017.5,"y":-70,"v":-4},{"x":2018,"y":-70,"v":-4},
{"x":2010.5,"y":-80,"v":0.7},{"x":2011,"y":-80,"v":1.0},{"x":2011.5,"y":-80,"v":1.2},{"x":2012,"y":-80,"v":1.3},{"x":2012.5,"y":-80,"v":1.3},{"x":2013,"y":-80,"v":0.8},{"x":2013.5,"y":-80,"v":0.2},{"x":2014,"y":-80,"v":-0.3},{"x":2014.5,"y":-80,"v":-1.5},{"x":2015,"y":-80,"v":-3.5},{"x":2015.5,"y":-80,"v":-4},{"x":2016,"y":-80,"v":-4},{"x":2016.5,"y":-80,"v":-4},{"x":2017,"y":-80,"v":-4},{"x":2017.5,"y":-80,"v":-4},{"x":2018,"y":-80,"v":-4},
{"x":2010.5,"y":-90,"v":0.6},{"x":2011,"y":-90,"v":0.9},{"x":2011.5,"y":-90,"v":1.1},{"x":2012,"y":-90,"v":1.2},{"x":2012.5,"y":-90,"v":1.1},{"x":2013,"y":-90,"v":0.8},{"x":2013.5,"y":-90,"v":0.3},{"x":2014,"y":-90,"v":-0.1},{"x":2014.5,"y":-90,"v":-1.0},{"x":2015,"y":-90,"v":-3.0},{"x":2015.5,"y":-90,"v":-4},{"x":2016,"y":-90,"v":-4},{"x":2016.5,"y":-90,"v":-4},{"x":2017,"y":-90,"v":-4},{"x":2017.5,"y":-90,"v":-4},{"x":2018,"y":-90,"v":-4}
]
},
"spacing":22,
"resolve":{"scale":{"color":"independent"}},
"hconcat":[
 {"bounds":"flush","spacing":6,"resolve":{"scale":{"color":"independent"}},"hconcat":[
  {"width":378,"height":254,
   "resolve":{"scale":{"color":"independent"}},
   "layer":[
    {"data":{"name":"L"},"mark":{"type":"rect","clip":true},
     "encoding":{
      "x":{"field":"x","type":"quantitative","bin":{"binned":true,"step":0.5},"scale":{"domain":[1996.57,2011.02],"nice":false,"zero":false},
           "axis":{"title":"Year","values":[1997,1998,1999,2000,2001,2002,2003,2004,2005,2006,2007,2008,2009,2010,2011],"format":"d","labelExpr":"datum.value % 2 == 0 ? datum.label : ''","tickSize":{"condition":{"test":"datum.value % 2 != 0","value":2},"value":3.5}}},
      "y":{"field":"y","type":"quantitative","bin":{"binned":true,"step":10},"scale":{"domain":[-90,90],"nice":false},
           "axis":{"title":"Latitude","titlePadding":4,"values":[-90,-75,-60,-45,-30,-15,0,15,30,45,60,75,90],"labelExpr":"datum.value % 45 == 0 ? datum.label : ''","tickSize":{"condition":{"test":"datum.value % 45 != 0","value":2},"value":3.5}}},
      "color":{"field":"v","type":"quantitative","scale":{"type":"linear","domain":[-4,0,4],"range":["#006ED0","#ffffff","#FF8C00"],"interpolate":"rgb","zero":false,"nice":false},"legend":null}
     }},
    {"data":{"values":[{}]},"mark":{"type":"rule","color":"black","strokeDash":[4,3],"strokeWidth":1.2},"encoding":{"y":{"datum":0,"type":"quantitative"}}}
   ]},
  {"width":17,"height":254,"data":{"name":"cb"},
   "title":{"text":"1e12","anchor":"middle"},
   "mark":{"type":"rect","fill":{"gradient":"linear","x1":0,"y1":1,"x2":0,"y2":0,"stops":[{"offset":0,"color":"#006ED0"},{"offset":0.5,"color":"#ffffff"},{"offset":1,"color":"#FF8C00"}]}},
   "encoding":{
    "y":{"field":"lo","type":"quantitative","scale":{"domain":[-4,4],"nice":false},"axis":{"orient":"right","domain":false,"values":[-4,-3,-2,-1,0,1,2,3,4],"title":"⟨h⟩ (Mx²cm⁻³)","titleAngle":270,"titleBaseline":"top","titlePadding":3}},
    "y2":{"field":"hi"}
   }}
 ]},
 {"bounds":"flush","spacing":5,"resolve":{"scale":{"color":"independent"}},"hconcat":[
  {"width":193,"height":254,
   "resolve":{"scale":{"color":"independent"}},
   "layer":[
    {"data":{"name":"R"},"mark":{"type":"rect","clip":true},
     "encoding":{
      "x":{"field":"x","type":"quantitative","bin":{"binned":true,"step":0.5},"scale":{"domain":[2010.6,2018.2],"nice":false,"zero":false},
           "axis":{"title":"Year","values":[2011,2012,2013,2014,2015,2016,2017,2018],"format":"d","labelExpr":"datum.value % 2 == 0 ? datum.label : ''","tickSize":{"condition":{"test":"datum.value % 2 != 0","value":2},"value":3.5}}},
      "y":{"field":"y","type":"quantitative","bin":{"binned":true,"step":10},"scale":{"domain":[-90,90],"nice":false},
           "axis":{"title":"Latitude","titlePadding":4,"values":[-90,-75,-60,-45,-30,-15,0,15,30,45,60,75,90],"labelExpr":"datum.value % 45 == 0 ? datum.label : ''","tickSize":{"condition":{"test":"datum.value % 45 != 0","value":2},"value":3.5}}},
      "color":{"field":"v","type":"quantitative","scale":{"type":"linear","domain":[-4,0,4],"range":["#006ED0","#ffffff","#FF8C00"],"interpolate":"rgb","zero":false,"nice":false},"legend":null}
     }},
    {"data":{"values":[{}]},"mark":{"type":"rule","color":"black","strokeDash":[4,3],"strokeWidth":1.2},"encoding":{"y":{"datum":0,"type":"quantitative"}}}
   ]},
  {"width":16,"height":254,"data":{"name":"cb"},
   "title":{"text":"1e11","anchor":"middle"},
   "mark":{"type":"rect","fill":{"gradient":"linear","x1":0,"y1":1,"x2":0,"y2":0,"stops":[{"offset":0,"color":"#006ED0"},{"offset":0.5,"color":"#ffffff"},{"offset":1,"color":"#FF8C00"}]}},
   "encoding":{
    "y":{"field":"lo","type":"quantitative","scale":{"domain":[-4,4],"nice":false},"axis":{"orient":"right","domain":false,"values":[-4,-3,-2,-1,0,1,2,3,4],"title":"⟨h⟩ (Mx²cm⁻³)","titleAngle":270,"titleBaseline":"top","titlePadding":3}},
    "y2":{"field":"hi"}
   }}
 ]}
]
}
